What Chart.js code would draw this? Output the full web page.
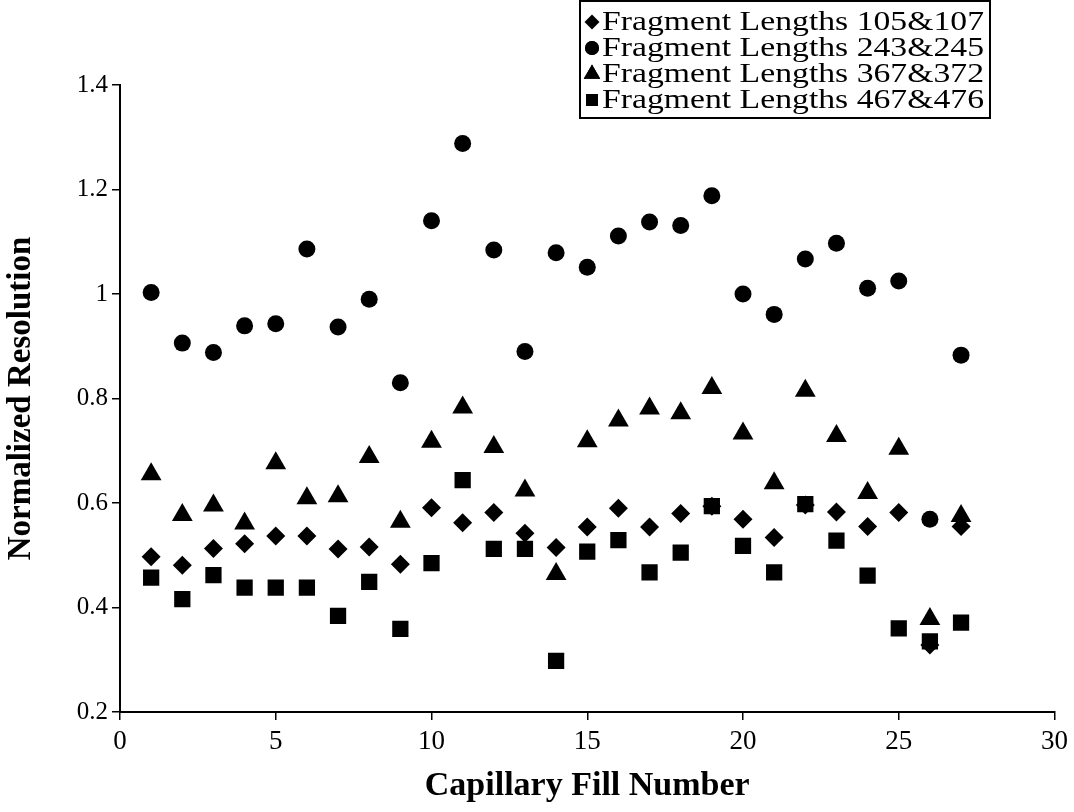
<!DOCTYPE html>
<html>
<head>
<meta charset="utf-8">
<script src="https://cdn.jsdelivr.net/npm/chart.js@4.4.1/dist/chart.umd.min.js"></script>
<style>
  html, body { margin: 0; padding: 0; background: #fff; }
  #wrap { width: 1074px; height: 812px; }
</style>
</head>
<body>
<div id="wrap"><canvas id="resChart" width="1074" height="812"></canvas></div>
<script>
// capillary fill number for every measurement
const fillNumbers = [1, 2, 3, 4, 5, 6, 7, 8, 9, 10, 11, 12, 13, 14, 15, 16, 17, 18, 19, 20, 21, 22, 23, 24, 25, 26, 27];

// normalized resolution per fragment pair
const frag105 = [0.497, 0.481, 0.513, 0.522, 0.537, 0.537, 0.512, 0.516, 0.483, 0.591, 0.562, 0.582, 0.542, 0.515, 0.554, 0.590, 0.554, 0.580, 0.594, 0.569, 0.534, 0.596, 0.583, 0.555, 0.582, 0.328, 0.555];
const frag243 = [1.003, 0.906, 0.888, 0.939, 0.943, 1.086, 0.937, 0.990, 0.830, 1.140, 1.288, 1.084, 0.890, 1.079, 1.051, 1.111, 1.138, 1.131, 1.188, 1.000, 0.961, 1.067, 1.097, 1.011, 1.025, 0.569, 0.883];
const frag367 = [0.655, 0.577, 0.595, 0.561, 0.676, 0.609, 0.613, 0.688, 0.564, 0.717, 0.783, 0.707, 0.624, 0.464, 0.718, 0.758, 0.781, 0.772, 0.820, 0.733, 0.638, 0.815, 0.728, 0.619, 0.704, 0.378, 0.575];
const frag467 = [0.457, 0.416, 0.462, 0.438, 0.438, 0.438, 0.384, 0.449, 0.359, 0.485, 0.644, 0.512, 0.512, 0.298, 0.507, 0.529, 0.467, 0.505, 0.594, 0.518, 0.467, 0.598, 0.528, 0.461, 0.360, 0.335, 0.371];

const seriesNames = [
  "Fragment Lengths 105&107",
  "Fragment Lengths 243&245",
  "Fragment Lengths 367&372",
  "Fragment Lengths 467&476"
];

// axis ticks
const xTickValues = [0, 5, 10, 15, 20, 25, 30];
const yTickValues = [0.2, 0.4, 0.6, 0.8, 1.0, 1.2, 1.4];

function toPoints(values) {
  return values.map((v, i) => ({ x: fillNumbers[i], y: v }));
}

const serif = "'Liberation Serif', 'Times New Roman', serif";

// draws the boxed legend in the upper right, on top of the plot
const boxLegend = {
  id: "boxLegend",
  afterDraw(chart) {
    const ctx = chart.ctx;
    const left = 580, top = 1, right = 990, bottom = 118;
    const rowY = [22, 48, 74, 100];
    ctx.save();
    ctx.fillStyle = "#fff";
    ctx.fillRect(left, top, right - left, bottom - top);
    ctx.strokeStyle = "#000";
    ctx.lineWidth = 2;
    ctx.strokeRect(left, top, right - left, bottom - top);

    chart.data.datasets.forEach((ds, i) => {
      const y = rowY[i];
      Chart.helpers.drawPoint(ctx, {
        pointStyle: ds.pointStyle,
        radius: ds.legendRadius,
        rotation: 0,
        borderWidth: 0
      }, 592, y);
      ctx.fillStyle = "#000";
      ctx.fill();

      ctx.font = "27px " + serif;
      ctx.textBaseline = "middle";
      ctx.textAlign = "left";
      const w = ctx.measureText(ds.label).width;
      const stretch = 382 / w;
      ctx.save();
      ctx.translate(602, y + 1);
      ctx.scale(stretch, 1);
      ctx.fillText(ds.label, 0, 0);
      ctx.restore();
    });
    ctx.restore();
  }
};

const ctx = document.getElementById("resChart").getContext("2d");

new Chart(ctx, {
  type: "scatter",
  data: {
    datasets: [
      {
        label: seriesNames[0],
        data: toPoints(frag105),
        pointStyle: "rectRot",
        pointRadius: 9.5,
        legendRadius: 7.5,
        backgroundColor: "#000",
        borderWidth: 0
      },
      {
        label: seriesNames[1],
        data: toPoints(frag243),
        pointStyle: "circle",
        pointRadius: 8.5,
        legendRadius: 7,
        backgroundColor: "#000",
        borderWidth: 0
      },
      {
        label: seriesNames[2],
        data: toPoints(frag367),
        pointStyle: "triangle",
        pointRadius: 12,
        legendRadius: 9.5,
        backgroundColor: "#000",
        borderWidth: 0
      },
      {
        label: seriesNames[3],
        data: toPoints(frag467),
        pointStyle: "rect",
        pointRadius: 11.5,
        legendRadius: 8.5,
        backgroundColor: "#000",
        borderWidth: 0
      }
    ]
  },
  options: {
    responsive: false,
    animation: false,
    devicePixelRatio: 1,
    layout: {
      padding: { top: 85, right: 17, bottom: 0, left: 0 }
    },
    plugins: {
      legend: { display: false },
      tooltip: { enabled: false }
    },
    scales: {
      x: {
        type: "linear",
        min: 0,
        max: 30,
        afterBuildTicks: (scale) => {
          scale.ticks = xTickValues.map((v) => ({ value: v }));
        },
        afterFit: (scale) => {
          scale.height = 100;
        },
        grid: {
          drawOnChartArea: false,
          drawTicks: true,
          tickLength: 8,
          color: "#000",
          lineWidth: 1.5
        },
        border: { display: true, color: "#000", width: 2 },
        ticks: {
          color: "#000",
          font: { family: serif, size: 27 },
          padding: 6,
          maxRotation: 0,
          autoSkip: false
        },
        title: {
          display: true,
          text: "Capillary Fill Number",
          color: "#000",
          font: { family: serif, size: 34, weight: "bold" },
          padding: { top: 0, bottom: 5 }
        }
      },
      y: {
        min: 0.2,
        max: 1.4,
        afterBuildTicks: (scale) => {
          scale.ticks = yTickValues.map((v) => ({ value: v }));
        },
        afterFit: (scale) => {
          scale.width = 120;
        },
        grid: {
          drawOnChartArea: false,
          drawTicks: true,
          tickLength: 8,
          color: "#000",
          lineWidth: 1.5
        },
        border: { display: true, color: "#000", width: 2 },
        ticks: {
          color: "#000",
          font: { family: serif, size: 25 },
          padding: 4,
          callback: (v) => String(Number(v.toFixed(1)))
        },
        title: {
          display: true,
          text: "Normalized Resolution",
          color: "#000",
          font: { family: serif, size: 33, weight: "bold" },
          padding: { top: 2, bottom: 0 }
        }
      }
    }
  },
  plugins: [boxLegend]
});
</script>
</body>
</html>
